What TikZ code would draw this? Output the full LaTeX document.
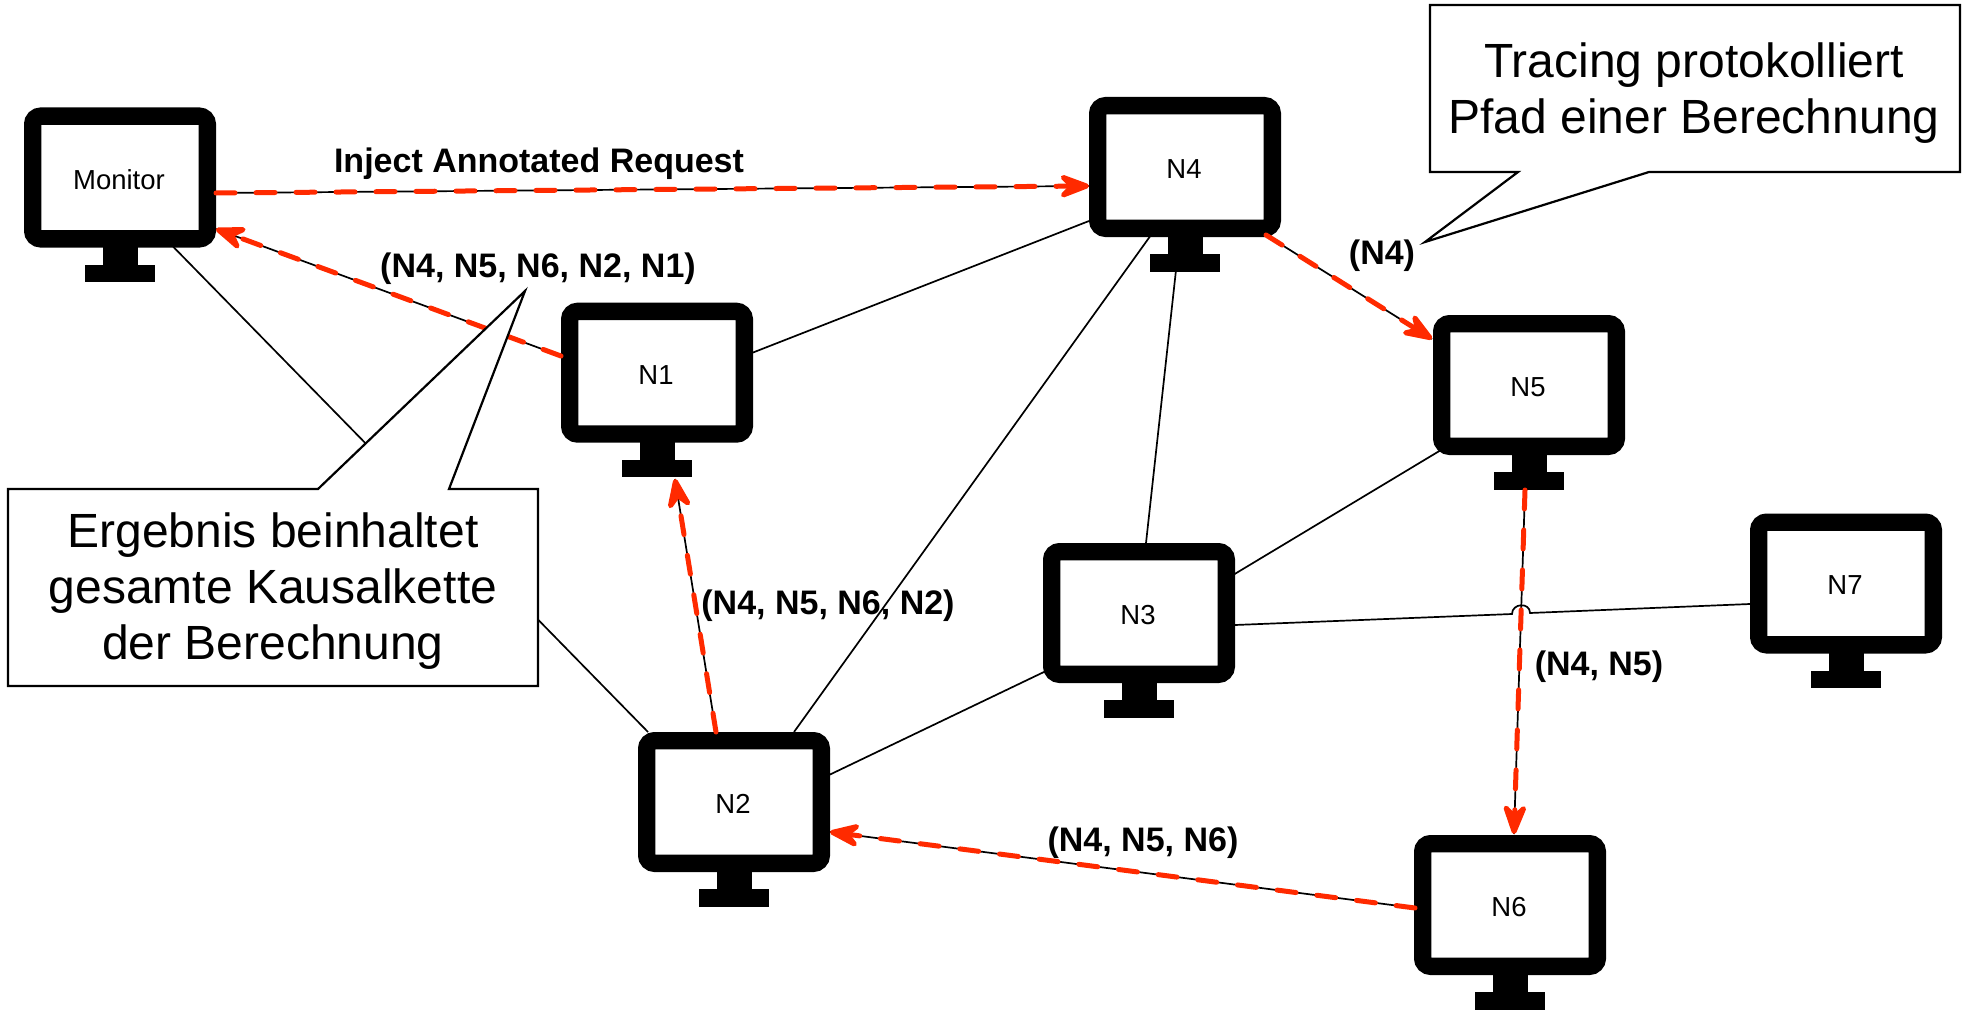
\documentclass[tikz,border=0pt]{standalone}
\usepackage{fontspec}
\setmainfont{Liberation Sans}
\usetikzlibrary{calc,arrows.meta}
\definecolor{flowred}{HTML}{FF2A00}
\tikzset{
  screen/.style={draw=black,fill=white,line width=17.4pt,rounded corners=8pt,minimum width=174.6pt,minimum height=122.6pt,inner sep=0pt},
  plainlink/.style={draw=black,line width=1.7pt},
  flowlink/.style={draw=flowred,line width=5pt,line cap=round,dash pattern=on 19pt off 21pt,-{Stealth[length=40pt,width=30pt,inset=15pt,round=false,color=flowred]}},
  calloutshape/.style={draw=black,fill=white,line width=2.2pt,line join=miter},
  callouttext/.style={align=center,inner sep=0pt,font=\fontsize{48}{56}\selectfont},
  edgelabel/.style={inner sep=0pt,font=\bfseries\fontsize{34}{40}\selectfont}
}
\newcommand{\monitorunit}[3]{%
  \node[screen] (#1) at #2 {};
  \node[inner sep=0pt,font=\fontsize{27.5}{32}\selectfont] (#1text) at ($(#1.center)+(-1,2)$) {#3};
  \fill ($(#1.center)+(-17,69)$) rectangle ($(#1.center)+(17.5,87)$);
  \fill ($(#1.center)+(-35,87)$) rectangle ($(#1.center)+(35,104.5)$);
}
\newcommand{\flowline}[2]{%
  \draw[plainlink] #1 -- #2;
  \draw[flowlink] #1 -- #2;
}
\begin{document}
\begin{tikzpicture}[x=1pt,y=-1pt]
\useasboundingbox (0,0) rectangle (1970,1014);
\monitorunit{Mon}{(120,177.5)}{Monitor}
\monitorunit{N4}{(1185,167)}{N4}
\monitorunit{N1}{(657,372.7)}{N1}
\monitorunit{N5}{(1529,385)}{N5}
\monitorunit{N3}{(1139,613)}{N3}
\monitorunit{N7}{(1846,583.5)}{N7}
\monitorunit{N2}{(734,802)}{N2}
\monitorunit{N6}{(1510,905)}{N6}
% plain links
\draw[plainlink] ($(Mon.center)+(52,68)$) -- ($(N2.center)+(-86,-70)$);
\draw[plainlink] ($(N1.center)+(93,-19)$) -- ($(N4.center)+(-96,54)$);
\draw[plainlink] ($(N4.center)+(-34,68)$) -- ($(N2.center)+(60,-70)$);
\draw[plainlink] ($(N4.center)+(-9,103)$) -- ($(N3.center)+(7,-70)$);
\draw[plainlink] ($(N5.center)+(-88,65)$) -- ($(N3.center)+(94,-38)$);
\draw[plainlink] ($(N3.center)+(-93,58)$) -- ($(N2.center)+(95,-27)$);
\coordinate (jl) at ($(N3.center)+(373,1)$);
\coordinate (jr) at ($(N3.center)+(391,0)$);
\draw[plainlink] ($(N3.center)+(96,12)$) -- (jl) .. controls ($(jl)+(0,-11)$) and ($(jr)+(0,-11)$) .. (jr) -- ($(N7.center)+(-96,20.5)$);
% flows
\flowline{($(Mon.center)+(96,15.5)$)}{($(N4.center)+(-96,19)$)}
\flowline{($(N1.center)+(-96,-16.7)$)}{($(Mon.center)+(96,51.5)$)}
\flowline{($(N4.center)+(81,68)$)}{($(N5.center)+(-97,-46)$)}
\flowline{($(N5.center)+(-4,105)$)}{($(N6.center)+(4,-71)$)}
\flowline{($(N6.center)+(-95,3)$)}{($(N2.center)+(96,30)$)}
\flowline{($(N2.center)+(-18,-70)$)}{($(N1.center)+(18,106.3)$)}
% callouts
\draw[calloutshape] (8,489) -- (318,489) -- (525,291) -- (449,489) -- (538,489) -- (538,686) -- (8,686) -- cycle;
\node[callouttext] (leftnote) at (273,591) {Ergebnis beinhaltet\\gesamte Kausalkette\\der Berechnung};
\draw[calloutshape] (1430,5) -- (1960,5) -- (1960,172) -- (1649,172) -- (1425,242) -- (1518,172) -- (1430,172) -- cycle;
\node[callouttext] (rightnote) at (1694,93) {Tracing protokolliert\\Pfad einer Berechnung};
% labels
\node[edgelabel] (l1) at (539,164) {Inject Annotated Request};
\node[edgelabel] (l2) at (538,269) {(N4, N5, N6, N2, N1)};
\node[edgelabel] (l3) at (828,606) {(N4, N5, N6, N2)};
\node[edgelabel] (l4) at (1382,256) {(N4)};
\node[edgelabel] (l5) at (1599,667) {(N4, N5)};
\node[edgelabel] (l6) at (1143,843) {(N4, N5, N6)};
\end{tikzpicture}
\end{document}
